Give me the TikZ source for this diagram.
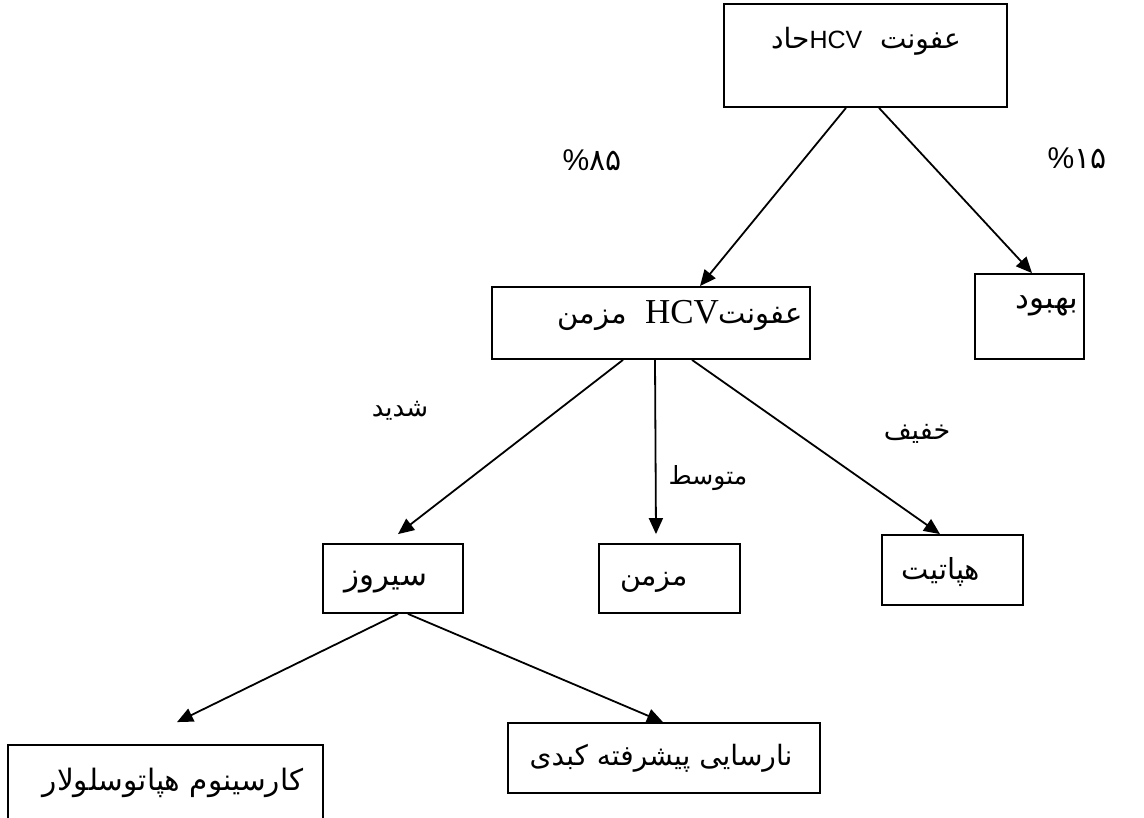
\documentclass[tikz,border=0pt]{standalone}
\usepackage{fontspec}
\usetikzlibrary{arrows.meta}
\TeXXeTstate=1
\setmainfont{Liberation Sans}
\newfontfamily\arabicfont[Script=Arabic]{DejaVu Sans}
\newfontfamily\serifhcv{Liberation Serif}
\newcommand{\fs}[1]{\fontsize{#1}{#1}\selectfont}
\begin{document}
\begin{tikzpicture}[x=1pt,y=-1pt,
  box/.style={draw,line width=1.8pt,inner sep=0pt},
  txt/.style={inner sep=0pt,font=\fs{28}\arabicfont},
  arr/.style={line width=1.8pt,-{Triangle[length=16pt,width=14pt]}}]
\useasboundingbox (0,0) rectangle (1144,818);
% boxes
\node[box,minimum width=283pt,minimum height=103pt] (top) at (865.5,55.5) {};
\node[box,minimum width=318pt,minimum height=72pt] (chr) at (651,323) {};
\node[box,minimum width=109pt,minimum height=85pt] (rec) at (1029.5,316.5) {};
\node[box,minimum width=140pt,minimum height=69pt] (sir) at (393,578.5) {};
\node[box,minimum width=141pt,minimum height=69pt] (moz) at (669.5,578.5) {};
\node[box,minimum width=141pt,minimum height=70pt] (hep) at (952.5,570) {};
\node[box,minimum width=315pt,minimum height=85pt] (car) at (165.5,787.5) {};
\node[box,minimum width=312pt,minimum height=70pt] (fail) at (664,758) {};
% box texts
\node[txt] (ttop) at (866,41) {\beginR عفونت\ \ \beginL{\fs{25}\rmfamily HCV}\endL{}حاد\endR};
\node[txt,font=\fs{29}\arabicfont] (tchr) at (680,315) {\beginR عفونت\beginL{\fs{35}\serifhcv HCV}\endL{}\ \ مزمن\endR};
\node[txt,font=\fs{31}\arabicfont] (trec) at (1047,306) {\beginR بهبود\endR};
\node[txt,font=\fs{31}\arabicfont] (tsir) at (386,582) {\beginR سیروز\endR};
\node[txt,font=\fs{28.5}\arabicfont] (tmoz) at (654,582) {\beginR مزمن\endR};
\node[txt,font=\fs{29}\arabicfont] (thep) at (941,572) {\beginR هپاتیت\endR};
\node[txt,font=\fs{29.5}\arabicfont] (tcar) at (173,783) {\beginR کارسینوم هپاتوسلولار\endR};
\node[txt,font=\fs{28}\arabicfont] (tfail) at (661,758) {\beginR نارسایی پیشرفته کبدی\endR};
% edge labels
\node[txt,font=\fs{30}\arabicfont] (p85) at (592,160) {{\rmfamily\%}۸۵};
\node[txt,font=\fs{30}\arabicfont] (p15) at (1077,158) {{\rmfamily\%}۱۵};
\node[txt,font=\fs{26}\arabicfont] (lsh) at (400,411) {\beginR شدید\endR};
\node[txt,font=\fs{25}\arabicfont] (lmo) at (708,478) {\beginR متوسط\endR};
\node[txt,font=\fs{27}\arabicfont] (lkh) at (917,434) {\beginR خفیف\endR};
% arrows
\draw[arr] ([xshift=-19.5pt]top.south) -- ([xshift=49pt]chr.north);
\draw[arr] ([xshift=13.5pt]top.south) -- ([xshift=2.5pt]rec.north);
\draw[arr] ([xshift=-28pt]chr.south) -- ([xshift=5pt,yshift=9pt]sir.north);
\draw[arr] ([xshift=4pt]chr.south) -- ([xshift=-13.5pt,yshift=9pt]moz.north);
\draw[arr] ([xshift=41pt]chr.south) -- ([xshift=-12.5pt]hep.north);
\draw[arr] ([xshift=5pt]sir.south) -- ([xshift=11.5pt,yshift=22pt]car.north);
\draw[arr] ([xshift=15pt]sir.south) -- ([xshift=-1pt]fail.north);
\end{tikzpicture}
\end{document}
